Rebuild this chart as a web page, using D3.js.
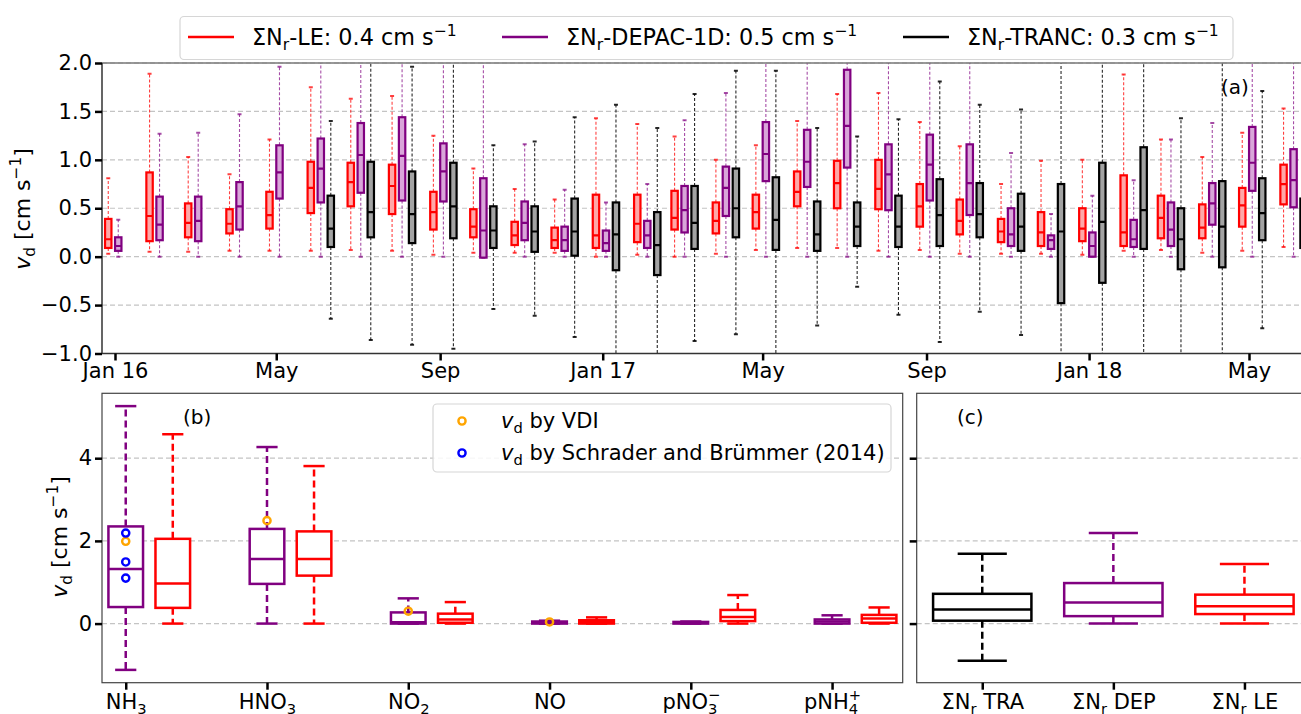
<!DOCTYPE html>
<html lang="en">
<head>
  <meta charset="UTF-8">
  <title>vd boxplots</title>
  <style>
    body { margin: 0; background: #fff; }
    svg text { font-family: 'DejaVu Sans', sans-serif; fill: #000; }
  </style>
</head>
<body>
  <svg id="fig" width="1301" height="714"></svg>

  <script src="https://cdnjs.cloudflare.com/ajax/libs/d3/7.8.5/d3.min.js"></script>
  <script>
    // monthly boxes for panel (a): [lower whisker, q1, median, q3, upper whisker] in cm/s
    const months = ['2016-01', '2016-02', '2016-03', '2016-04', '2016-05', '2016-06',
      '2016-07', '2016-08', '2016-09', '2016-10', '2016-11', '2016-12',
      '2017-01', '2017-02', '2017-03', '2017-04', '2017-05', '2017-06',
      '2017-07', '2017-08', '2017-09', '2017-10', '2017-11', '2017-12',
      '2018-01', '2018-02', '2018-03', '2018-04', '2018-05', '2018-06']

    const leMonthly = [
      [0.03, 0.09, 0.18, 0.39, 0.81], [0.05, 0.16, 0.42, 0.87, 1.89], [0.05, 0.20, 0.35, 0.55, 1.03],
      [0.06, 0.24, 0.34, 0.49, 0.85], [0.06, 0.29, 0.43, 0.67, 1.21], [0.06, 0.45, 0.71, 0.98, 1.75],
      [0.07, 0.52, 0.77, 0.97, 1.63], [0.06, 0.44, 0.73, 0.95, 1.66], [0.02, 0.28, 0.46, 0.67, 1.25],
      [0.04, 0.20, 0.31, 0.49, 0.91], [0.04, 0.12, 0.22, 0.36, 0.70], [0.04, 0.09, 0.17, 0.30, 0.59],
      [0.00, 0.09, 0.22, 0.64, 1.43], [0.02, 0.15, 0.34, 0.64, 1.37], [0.00, 0.28, 0.40, 0.68, 1.24],
      [0.03, 0.24, 0.37, 0.56, 1.00], [0.07, 0.29, 0.46, 0.64, 1.15], [0.09, 0.52, 0.67, 0.88, 1.40],
      [0.09, 0.50, 0.76, 0.99, 1.68], [0.06, 0.49, 0.70, 1.00, 1.69], [0.07, 0.31, 0.52, 0.75, 1.39],
      [0.03, 0.23, 0.37, 0.59, 1.14], [0.03, 0.15, 0.26, 0.39, 0.75], [0.03, 0.11, 0.25, 0.46, 0.99],
      [0.02, 0.16, 0.29, 0.50, 1.00], [0.06, 0.11, 0.25, 0.84, 1.88], [0.07, 0.19, 0.40, 0.63, 1.21],
      [0.04, 0.19, 0.30, 0.54, 1.03], [0.06, 0.31, 0.53, 0.71, 1.28], [0.10, 0.54, 0.75, 0.95, 1.53]
    ]

    const depacMonthly = [
      [0, 0.06, 0.11, 0.20, 0.38], [0, 0.17, 0.33, 0.62, 1.27], [0, 0.16, 0.37, 0.62, 1.28],
      [0, 0.28, 0.52, 0.77, 1.47], [0, 0.60, 0.87, 1.15, 1.96], [0, 0.56, 0.91, 1.22, 2.40],
      [0, 0.66, 1.05, 1.38, 2.60], [0, 0.58, 1.04, 1.44, 2.70], [0, 0.57, 0.88, 1.17, 2.30],
      [-0.01, -0.01, 0.27, 0.81, 2.20], [0, 0.17, 0.35, 0.57, 1.16], [0, 0.06, 0.17, 0.31, 0.69],
      [0, 0.06, 0.14, 0.27, 0.56], [0, 0.09, 0.22, 0.37, 0.75], [0, 0.25, 0.48, 0.73, 1.41],
      [0, 0.42, 0.71, 0.93, 1.69], [0, 0.78, 1.06, 1.39, 2.50], [0, 0.72, 0.98, 1.31, 2.40],
      [0, 0.92, 1.35, 1.93, 3.20], [0, 0.48, 0.85, 1.16, 2.20], [0, 0.58, 0.95, 1.26, 2.30],
      [0, 0.43, 0.76, 1.16, 2.20], [0, 0.11, 0.23, 0.50, 1.07], [0, 0.08, 0.17, 0.22, 0.44],
      [0, 0.00, 0.11, 0.25, 0.63], [0, 0.10, 0.18, 0.38, 0.79], [0, 0.11, 0.28, 0.56, 1.21],
      [0, 0.33, 0.55, 0.76, 1.38], [0, 0.68, 0.97, 1.34, 2.40], [0, 0.51, 0.79, 1.11, 2.20]
    ]

    const trancMonthly = [
      null, null, null, null, null, [-0.64, 0.10, 0.29, 0.63, 1.40],
      [-0.86, 0.20, 0.46, 0.98, 2.30], [-0.91, 0.14, 0.44, 0.88, 1.96], [-0.95, 0.19, 0.52, 0.97, 2.20],
      [-0.54, 0.09, 0.27, 0.52, 1.15], [-0.61, 0.05, 0.26, 0.52, 1.19], [-0.83, 0.01, 0.26, 0.60, 1.44],
      [-1.40, -0.14, 0.23, 0.56, 1.57], [-1.40, -0.19, 0.12, 0.46, 1.33], [-0.87, 0.08, 0.35, 0.73, 1.68],
      [-0.80, 0.20, 0.50, 0.91, 1.92], [-1.30, 0.07, 0.38, 0.82, 1.92], [-0.71, 0.06, 0.23, 0.57, 1.33],
      [-0.31, 0.11, 0.31, 0.56, 1.24], [-0.60, 0.10, 0.31, 0.63, 1.42], [-0.88, 0.11, 0.43, 0.80, 1.81],
      [-0.57, 0.20, 0.44, 0.76, 1.57], [-0.81, 0.06, 0.31, 0.65, 1.52], [-1.60, -0.48, 0.26, 0.75, 2.10],
      [-1.40, -0.27, 0.36, 0.97, 2.30], [-1.30, 0.08, 0.48, 1.13, 2.50], [-1.20, -0.13, 0.18, 0.50, 1.43],
      [-1.30, -0.11, 0.31, 0.78, 2.10], [-0.74, 0.17, 0.45, 0.81, 1.71], [-0.50, 0.09, 0.35, 0.60, 1.30]
    ]

    const yTicksA = [-1, -0.5, 0, 0.5, 1, 1.5, 2]
    const xTicksA = ['2016-01', '2016-05', '2016-09', '2017-01', '2017-05', '2017-09', '2018-01', '2018-05']
    const xTickLabelsA = ['Jan 16', 'May', 'Sep', 'Jan 17', 'May', 'Sep', 'Jan 18', 'May']

    // panel (b): per species, DEPAC-1D (purple) and LE (red)
    const species = [
      [['NH'], ['3', 'sub']], [['HNO'], ['3', 'sub']], [['NO'], ['2', 'sub']],
      [['NO']], [['pNO'], ['3', 'sub'], ['−', 'supback']], [['pNH'], ['4', 'sub'], ['+', 'supback']]
    ]
    const depacSpecies = [
      [-1.12, 0.40, 1.32, 2.35, 5.26], [0, 0.96, 1.56, 2.29, 4.27], [0, 0.0, 0.03, 0.27, 0.61],
      [0, 0.0, 0.02, 0.05, 0.07], [0, 0.0, 0.02, 0.04, 0.05], [0, 0.0, 0.05, 0.10, 0.20]
    ]
    const leSpecies = [
      [0, 0.38, 0.97, 2.05, 4.58], [0, 1.16, 1.56, 2.23, 3.81], [0, 0.02, 0.10, 0.24, 0.52],
      [0, 0.0, 0.03, 0.08, 0.15], [0, 0.06, 0.16, 0.33, 0.69], [0, 0.02, 0.12, 0.21, 0.39]
    ]
    // literature values drawn as open circles at the DEPAC position
    const vdiPoints = [{ i: 0, v: 1.99 }, { i: 1, v: 2.49 }, { i: 2, v: 0.30 }, { i: 3, v: 0.04 }]
    const schraderPoints = [{ i: 0, v: 2.19 }, { i: 0, v: 1.49 }, { i: 0, v: 1.10 }]
    const yTicksB = [0, 2, 4]

    // panel (c): total reactive nitrogen
    const totals = [[['ΣN'], ['r', 'sub'], [' TRA']], [['ΣN'], ['r', 'sub'], [' DEP']], [['ΣN'], ['r', 'sub'], [' LE']]]
    const totalStats = [
      [-0.90, 0.07, 0.34, 0.72, 1.69],
      [0, 0.18, 0.51, 0.98, 2.19],
      [0, 0.23, 0.42, 0.70, 1.44]
    ]

    const RED = '#ff0000', PURPLE = '#800080', BLACK = '#000000'
    const parseMonth = d3.timeParse('%Y-%m')
    const svg = d3.select('#fig')

    // writes text with matplotlib-like sub/superscripts
    function rich(sel, parts, size) {
      let shift = 0
      parts.forEach(([t, k]) => {
        const ts = sel.append('tspan').text(t)
        let target = 0
        if (k === 'sub') { target = size * 0.22; ts.attr('font-size', size * 0.7) }
        if (k === 'sup' || k === 'supback') { target = -size * 0.42; ts.attr('font-size', size * 0.7) }
        if (k === 'supback') ts.attr('dx', -size * 0.45)
        if (k === 'it') ts.attr('font-style', 'italic')
        ts.attr('dy', target - shift)
        shift = target
      })
    }

    function drawBox(g, cx, half, capHalf, s, y, st) {
      const [lo, q1, med, q3, hi] = s
      const wh = g.append('g')
        .attr('stroke', st.whisker || st.stroke)
        .attr('stroke-width', st.wWidth)
        .attr('stroke-opacity', st.wOpacity || 1)
      wh.append('line').attr('x1', cx).attr('x2', cx).attr('y1', y(q1)).attr('y2', y(lo))
        .attr('stroke-dasharray', st.dash)
      wh.append('line').attr('x1', cx).attr('x2', cx).attr('y1', y(q3)).attr('y2', y(hi))
        .attr('stroke-dasharray', st.dash)
      wh.append('line').attr('x1', cx - capHalf).attr('x2', cx + capHalf).attr('y1', y(lo)).attr('y2', y(lo))
        .attr('stroke-width', st.capWidth)
      wh.append('line').attr('x1', cx - capHalf).attr('x2', cx + capHalf).attr('y1', y(hi)).attr('y2', y(hi))
        .attr('stroke-width', st.capWidth)
      g.append('rect')
        .attr('x', cx - half).attr('width', 2 * half)
        .attr('y', y(q3)).attr('height', Math.max(0.5, y(q1) - y(q3)))
        .attr('fill', st.fill).attr('stroke', st.stroke).attr('stroke-width', st.bWidth)
      g.append('line').attr('x1', cx - half).attr('x2', cx + half).attr('y1', y(med)).attr('y2', y(med))
        .attr('stroke', st.stroke).attr('stroke-width', st.bWidth)
    }

    function styleAxis(g, size) {
      g.attr('font-size', size).attr('font-family', 'DejaVu Sans')
      g.select('.domain').remove()
      g.selectAll('.tick line').attr('stroke', '#000').attr('stroke-width', 2.5)
      g.selectAll('.tick text').attr('fill', '#000')
    }

    // ---------- panel (a) ----------
    const A = { left: 102, right: 1301, top: 63, bottom: 353.5 }
    const xA = d3.scaleTime()
      .domain([parseMonth('2016-01'), parseMonth('2018-05')])
      .range([115, 1249])
    const yA = d3.scaleLinear().domain([-1, 2]).range([A.bottom, A.top])

    svg.append('defs').append('clipPath').attr('id', 'clipA')
      .append('rect').attr('x', A.left).attr('y', A.top)
      .attr('width', A.right - A.left).attr('height', A.bottom - A.top)

    svg.append('g').selectAll('line').data(yTicksA).join('line')
      .attr('x1', A.left).attr('x2', A.right)
      .attr('y1', d => yA(d)).attr('y2', d => yA(d))
      .attr('stroke', '#c4c4c4').attr('stroke-width', 1.2).attr('stroke-dasharray', '5,3')

    const plotA = svg.append('g').attr('clip-path', 'url(#clipA)')
    const seriesA = [
      { data: leMonthly, off: -10, st: { stroke: RED, fill: '#ffa8a8', whisker: RED, wOpacity: 0.75 } },
      { data: depacMonthly, off: 0, st: { stroke: PURPLE, fill: '#d9a6d9', whisker: PURPLE, wOpacity: 0.7 } },
      { data: trancMonthly, off: 10, st: { stroke: BLACK, fill: '#a3a3a3', whisker: BLACK, wOpacity: 0.85 } }
    ]
    seriesA.forEach(s => {
      s.data.forEach((stat, i) => {
        if (!stat) return
        const cx = xA(parseMonth(months[i])) + 3.25 + s.off
        drawBox(plotA, cx, 3.2, 2, stat, yA,
          Object.assign({ wWidth: 1.1, capWidth: 2, bWidth: 2.2, dash: '3,2' }, s.st))
      })
    })

    // spines
    svg.append('path')
      .attr('d', `M${A.right},${A.top}H${A.left}`)
      .attr('fill', 'none').attr('stroke', '#777').attr('stroke-width', 1.5)
    svg.append('path')
      .attr('d', `M${A.left},${A.top}V${A.bottom}H${A.right}`)
      .attr('fill', 'none').attr('stroke', '#333').attr('stroke-width', 1.5)

    svg.append('g').attr('transform', `translate(${A.left},0)`)
      .call(d3.axisLeft(yA).tickValues(yTicksA).tickSize(7).tickPadding(3).tickFormat(d3.format('.1f')))
      .call(g => styleAxis(g, 21))

    svg.append('g').attr('transform', `translate(0,${A.bottom})`)
      .call(d3.axisBottom(xA).tickValues(xTicksA.map(parseMonth)).tickSize(7).tickPadding(3)
        .tickFormat((d, i) => xTickLabelsA[i]))
      .call(g => styleAxis(g, 21))

    const yLabA = svg.append('text').attr('font-size', 22).attr('text-anchor', 'middle')
      .attr('transform', 'translate(30,209) rotate(-90)')
    rich(yLabA, [['v', 'it'], ['d', 'sub'], [' [cm s'], ['−1', 'sup'], [']']], 22)

    svg.append('text').attr('x', 1221).attr('y', 94).attr('font-size', 20).text('(a)')

    // legend (a)
    const legA = svg.append('g')
    legA.append('rect').attr('x', 180).attr('y', 16.5).attr('width', 1053).attr('height', 43)
      .attr('rx', 4).attr('fill', '#fff').attr('stroke', '#d6d6d6').attr('stroke-width', 1.2)
    const legItems = [
      { c: RED, x: 188, parts: [['ΣN'], ['r', 'sub'], ['-LE: 0.4 cm s'], ['−1', 'sup']] },
      { c: PURPLE, x: 502, parts: [['ΣN'], ['r', 'sub'], ['-DEPAC-1D: 0.5 cm s'], ['−1', 'sup']] },
      { c: BLACK, x: 903, parts: [['ΣN'], ['r', 'sub'], ['-TRANC: 0.3 cm s'], ['−1', 'sup']] }
    ]
    legItems.forEach(it => {
      legA.append('line').attr('x1', it.x).attr('x2', it.x + 46).attr('y1', 37).attr('y2', 37)
        .attr('stroke', it.c).attr('stroke-width', 2.5)
      const t = legA.append('text').attr('x', it.x + 64).attr('y', 45).attr('font-size', 22.3)
      rich(t, it.parts, 22.3)
    })

    // ---------- panel (b) ----------
    const B = { left: 102, right: 902.7, top: 393.3, bottom: 682.7 }
    const xB = d3.scaleLinear().domain([-0.168, 5.5]).range([B.left, B.right])
    const yB = d3.scaleLinear().domain([-1.43, 5.57]).range([B.bottom, B.top])

    svg.append('g').selectAll('line').data(yTicksB).join('line')
      .attr('x1', B.left).attr('x2', B.right)
      .attr('y1', d => yB(d)).attr('y2', d => yB(d))
      .attr('stroke', '#c4c4c4').attr('stroke-width', 1.2).attr('stroke-dasharray', '5,3')

    const plotB = svg.append('g')
    const stB = { fill: '#fff', wWidth: 2.5, capWidth: 2.5, bWidth: 2.5, dash: '7,4' }
    depacSpecies.forEach((s, i) => drawBox(plotB, xB(i), xB(0.1225) - xB(0), xB(0.075) - xB(0), s, yB,
      Object.assign({ stroke: PURPLE }, stB)))
    leSpecies.forEach((s, i) => drawBox(plotB, xB(i + 0.333), xB(0.1225) - xB(0), xB(0.075) - xB(0), s, yB,
      Object.assign({ stroke: RED }, stB)))

    plotB.selectAll('circle.vdi').data(vdiPoints).join('circle').attr('class', 'vdi')
      .attr('cx', d => xB(d.i)).attr('cy', d => yB(d.v)).attr('r', 3.6)
      .attr('fill', 'none').attr('stroke', 'orange').attr('stroke-width', 2.4)
    plotB.selectAll('circle.sch').data(schraderPoints).join('circle').attr('class', 'sch')
      .attr('cx', d => xB(d.i)).attr('cy', d => yB(d.v)).attr('r', 3.6)
      .attr('fill', 'none').attr('stroke', '#0000ff').attr('stroke-width', 2.4)

    svg.append('rect').attr('x', B.left).attr('y', B.top)
      .attr('width', B.right - B.left).attr('height', B.bottom - B.top)
      .attr('fill', 'none').attr('stroke', '#444').attr('stroke-width', 1.2)

    svg.append('g').attr('transform', `translate(${B.left},0)`)
      .call(d3.axisLeft(yB).tickValues(yTicksB).tickSize(7).tickPadding(3).tickFormat(d3.format('d')))
      .call(g => styleAxis(g, 21))

    svg.append('g').attr('transform', `translate(0,${B.bottom})`)
      .call(d3.axisBottom(xB).tickValues(d3.range(species.length)).tickSize(7))
      .call(g => styleAxis(g, 21))
      .call(g => g.selectAll('.tick text').each(function (d, i) {
        const t = d3.select(this).text(null).attr('dy', null).attr('y', 26.3)
        rich(t, species[i], 21)
      }))

    const yLabB = svg.append('text').attr('font-size', 22).attr('text-anchor', 'middle')
      .attr('transform', 'translate(67,537) rotate(-90)')
    rich(yLabB, [['v', 'it'], ['d', 'sub'], [' [cm s'], ['−1', 'sup'], [']']], 22)

    svg.append('text').attr('x', 183).attr('y', 424).attr('font-size', 20).text('(b)')

    // legend (b)
    const legB = svg.append('g')
    legB.append('rect').attr('x', 433).attr('y', 404).attr('width', 458).attr('height', 68)
      .attr('rx', 4).attr('fill', '#fff').attr('fill-opacity', 0.85).attr('stroke', '#d6d6d6').attr('stroke-width', 1.2)
    const legBItems = [
      { c: 'orange', y: 421, parts: [['v', 'it'], ['d', 'sub'], [' by VDI']] },
      { c: '#0000ff', y: 453, parts: [['v', 'it'], ['d', 'sub'], [' by Schrader and Brümmer (2014)']] }
    ]
    legBItems.forEach(it => {
      legB.append('circle').attr('cx', 462).attr('cy', it.y).attr('r', 3.6)
        .attr('fill', 'none').attr('stroke', it.c).attr('stroke-width', 2.4)
      const t = legB.append('text').attr('x', 501).attr('y', it.y + 7).attr('font-size', 21)
      rich(t, it.parts, 21)
    })

    // ---------- panel (c) ----------
    const C = { left: 916.7, right: 1310, top: 393.3, bottom: 682.7 }
    const xC = d3.scaleLinear().domain([-0.5, 2.5]).range([C.left, C.right])

    svg.append('g').selectAll('line').data(yTicksB).join('line')
      .attr('x1', C.left).attr('x2', C.right)
      .attr('y1', d => yB(d)).attr('y2', d => yB(d))
      .attr('stroke', '#c4c4c4').attr('stroke-width', 1.2).attr('stroke-dasharray', '5,3')

    const plotC = svg.append('g')
    const totalColors = [BLACK, PURPLE, RED]
    totalStats.forEach((s, i) => drawBox(plotC, xC(i), xC(0.375) - xC(0), xC(0.1875) - xC(0), s, yB,
      Object.assign({ stroke: totalColors[i] }, stB)))

    svg.append('rect').attr('x', C.left).attr('y', C.top)
      .attr('width', C.right - C.left).attr('height', C.bottom - C.top)
      .attr('fill', 'none').attr('stroke', '#444').attr('stroke-width', 1.2)

    svg.append('g').attr('transform', `translate(${C.left},0)`)
      .call(d3.axisLeft(yB).tickValues(yTicksB).tickSize(7).tickFormat(''))
      .call(g => styleAxis(g, 21))

    svg.append('g').attr('transform', `translate(0,${C.bottom})`)
      .call(d3.axisBottom(xC).tickValues(d3.range(totals.length)).tickSize(7))
      .call(g => styleAxis(g, 21))
      .call(g => g.selectAll('.tick text').each(function (d, i) {
        const t = d3.select(this).text(null).attr('dy', null).attr('y', 26.3)
        rich(t, totals[i], 21)
      }))

    svg.append('text').attr('x', 957).attr('y', 424).attr('font-size', 20).text('(c)')
  </script>
</body>
</html>
